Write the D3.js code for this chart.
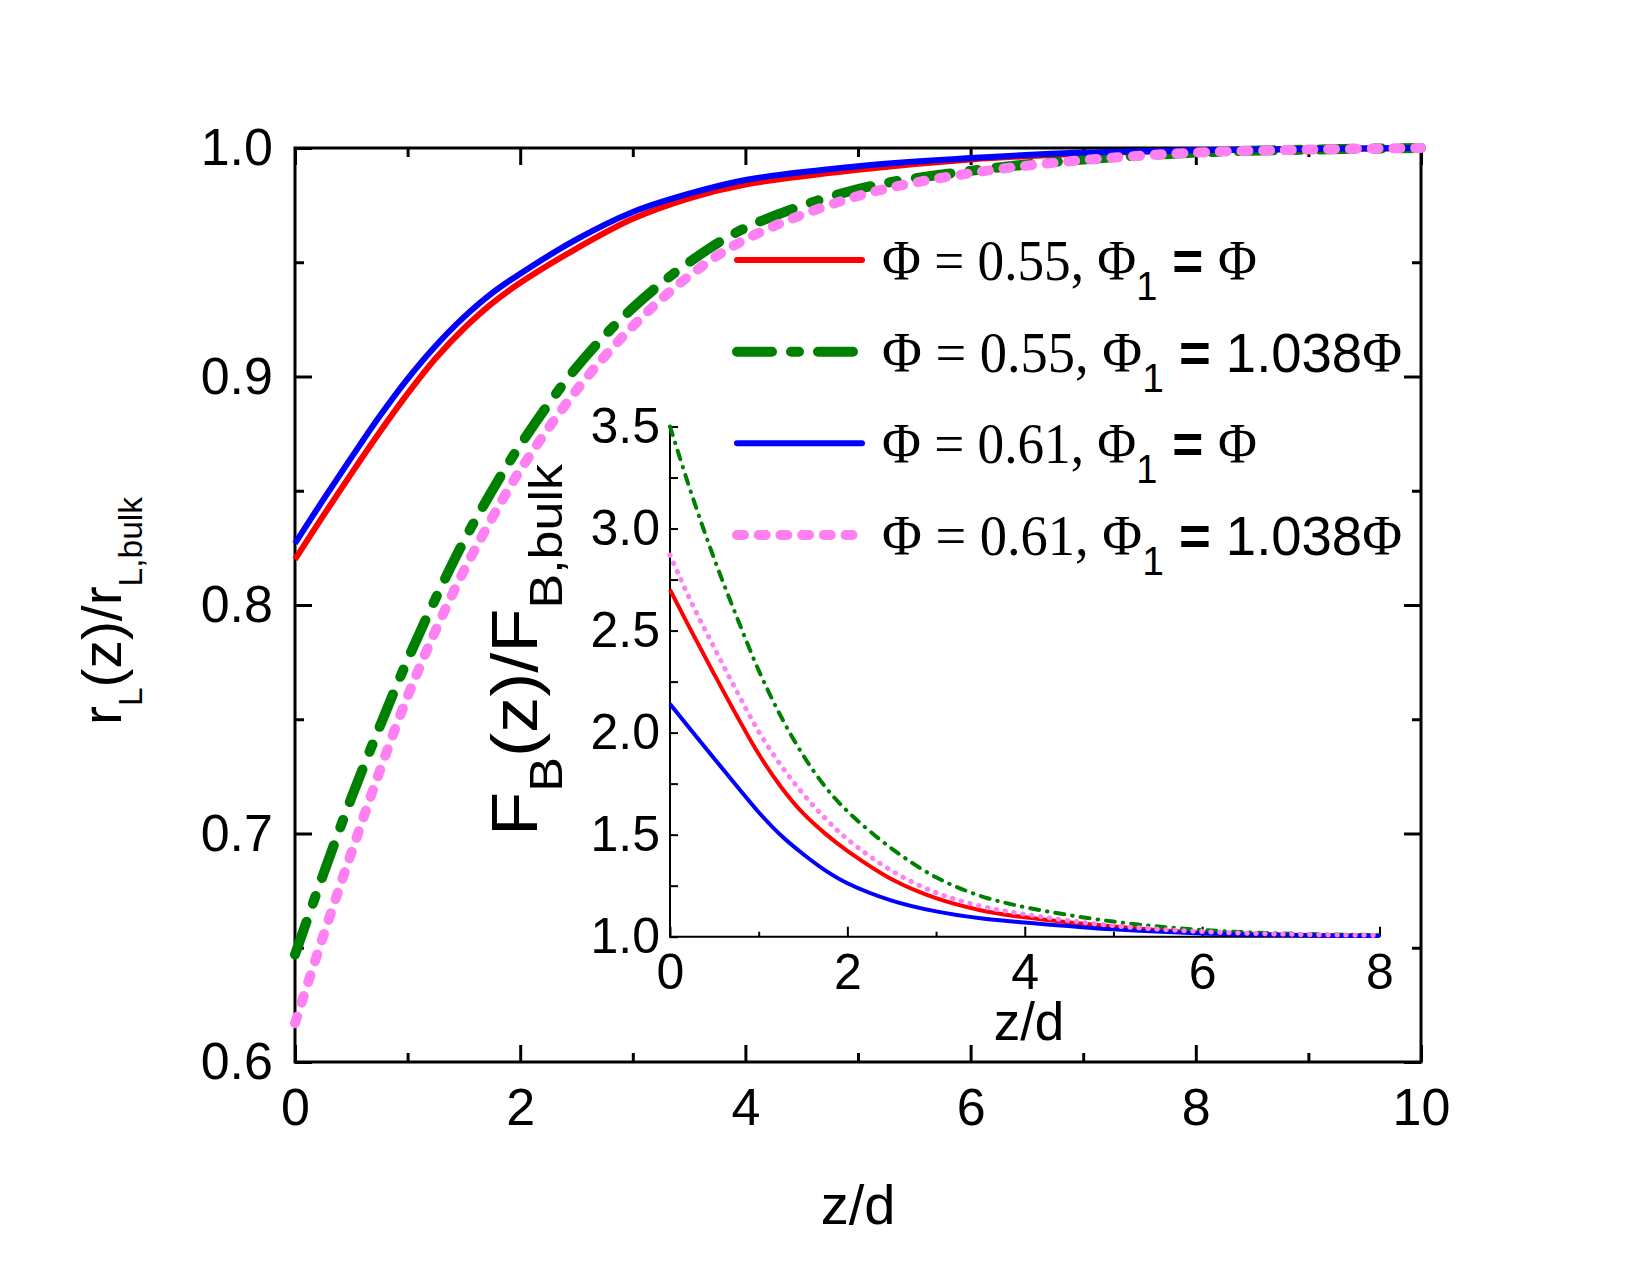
<!DOCTYPE html>
<html>
<head>
<meta charset="utf-8">
<script src="https://cdn.jsdelivr.net/npm/d3@7"></script>
<style>
  body { margin: 0; background: #fff; }
  text { fill: #000; }
</style>
</head>
<body>
<div id="chart"></div>
<script>
//main plot data: r_L(z)/r_L,bulk against z/d
const zMain = [0, 0.25, 0.5, 0.75, 1, 1.25, 1.5, 1.75, 2, 2.5, 3, 3.5, 4, 5, 6, 7, 8, 9, 10];
const mainRed = [0.820, 0.839, 0.8575, 0.8755, 0.8925, 0.908, 0.921, 0.932, 0.941, 0.956, 0.969, 0.978, 0.984, 0.9905, 0.995, 0.9975, 0.9989, 0.9995, 1.0];
const mainGreen = [0.647, 0.682, 0.7155, 0.7465, 0.776, 0.803, 0.828, 0.850, 0.870, 0.904, 0.930, 0.950, 0.965, 0.982, 0.990, 0.995, 0.998, 0.9993, 1.0];
const mainBlue = [0.827, 0.846, 0.8645, 0.8825, 0.899, 0.9135, 0.926, 0.9365, 0.945, 0.960, 0.972, 0.980, 0.986, 0.992, 0.9956, 0.998, 0.999, 0.9996, 1.0];
const mainPink = [0.617, 0.655, 0.6915, 0.727, 0.760, 0.789, 0.815, 0.838, 0.859, 0.894, 0.922, 0.944, 0.960, 0.979, 0.989, 0.9947, 0.998, 0.9993, 1.0];

//inset data: F_B(z)/F_B,bulk against z/d
const zInset = [0, 0.25, 0.5, 0.75, 1, 1.25, 1.5, 1.75, 2, 2.5, 3, 3.5, 4, 5, 6, 7, 8];
const insetRed = [2.70, 2.49, 2.285, 2.085, 1.895, 1.735, 1.605, 1.505, 1.421, 1.282, 1.189, 1.13, 1.095, 1.05, 1.02, 1.01, 1.005];
const insetGreen = [3.50, 3.16, 2.85, 2.57, 2.305, 2.08, 1.89, 1.735, 1.615, 1.432, 1.291, 1.20, 1.145, 1.074, 1.033, 1.015, 1.008];
const insetBlue = [2.14, 2.005, 1.872, 1.74, 1.61, 1.497, 1.405, 1.325, 1.262, 1.177, 1.124, 1.09, 1.07, 1.036, 1.016, 1.008, 1.004];
const insetPink = [2.87, 2.63, 2.415, 2.205, 2.005, 1.84, 1.70, 1.58, 1.478, 1.323, 1.216, 1.15, 1.11, 1.054, 1.025, 1.012, 1.006];

//tick values
const mainXMajor = [0, 2, 4, 6, 8, 10];
const mainXMinor = [1, 3, 5, 7, 9];
const mainYMajor = [0.6, 0.7, 0.8, 0.9, 1.0];
const mainYMinor = [0.65, 0.75, 0.85, 0.95];
const insetXMajor = [0, 2, 4, 6, 8];
const insetXMinor = [1, 3, 5, 7];
const insetYMajor = [1.0, 1.5, 2.0, 2.5, 3.0, 3.5];
const insetYMinor = [1.25, 1.75, 2.25, 2.75, 3.25];

//legend entries
const legendPhi = ["0.55", "0.55", "0.61", "0.61"];
const legendFactor = ["", "1.038", "", "1.038"];

const SANS = "'Liberation Sans', Arial, sans-serif";
const SERIF = "'Liberation Serif', 'Times New Roman', serif";

const series = [
  { main: mainRed, inset: insetRed, color: "#ff0000", mw: 6, md: null, iw: 4, id: null, cap: "butt" },
  { main: mainGreen, inset: insetGreen, color: "#008000", mw: 10, md: "35 19 8 19", iw: 4, id: "9 8 0.5 8", cap: "round" },
  { main: mainBlue, inset: insetBlue, color: "#0000ff", mw: 6, md: null, iw: 4, id: null, cap: "butt" },
  { main: mainPink, inset: insetPink, color: "#ff80f2", mw: 10, md: "7 14.7", iw: 5, id: "0.5 8.5", cap: "round" },
];

const svg = d3
  .select("#chart")
  .append("svg")
  .attr("width", 1650)
  .attr("height", 1275)
  .style("background", "#fff");

//scales
const x = d3.scaleLinear().domain([0, 10]).range([295, 1421]);
const y = d3.scaleLinear().domain([0.6, 1.0]).range([1062, 148]);
const xi = d3.scaleLinear().domain([0, 8]).range([670, 1379.5]);
const yi = d3.scaleLinear().domain([1.0, 3.5]).range([936.7, 426.5]);

//helper for a set of ticks
const ticks = (axis, pos, values, size, width, fmt, font, pad) => {
  const g = svg
    .append("g")
    .attr("transform", pos)
    .call(
      axis
        .tickValues(values)
        .tickSize(-size)
        .tickPadding(pad || 0)
        .tickFormat(fmt || (() => ""))
    );
  g.select(".domain").remove();
  g.selectAll("line").attr("stroke", "#000").attr("stroke-width", width);
  g.selectAll("text")
    .attr("font-family", SANS)
    .attr("font-size", font || 10)
    .attr("fill", "#000");
  return g;
};

const f1 = d3.format(".1f");
const fi = d3.format("d");

//main frame ticks
ticks(d3.axisBottom(x), "translate(0,1062)", mainXMajor, 17, 3, fi, 52, 26);
ticks(d3.axisBottom(x), "translate(0,1062)", mainXMinor, 9, 3);
ticks(d3.axisTop(x), "translate(0,148)", mainXMajor, 17, 3);
ticks(d3.axisTop(x), "translate(0,148)", mainXMinor, 9, 3);
ticks(d3.axisLeft(y), "translate(295,0)", mainYMajor, 17, 3, f1, 52, 22);
ticks(d3.axisLeft(y), "translate(295,0)", mainYMinor, 9, 3);
ticks(d3.axisRight(y), "translate(1421,0)", mainYMajor, 17, 3);
ticks(d3.axisRight(y), "translate(1421,0)", mainYMinor, 9, 3);

svg
  .append("rect")
  .attr("x", x(0))
  .attr("y", y(1.0))
  .attr("width", x(10) - x(0))
  .attr("height", y(0.6) - y(1.0))
  .attr("fill", "none")
  .attr("stroke", "#000")
  .attr("stroke-width", 3);

//main curves
const mainLine = (vals) =>
  d3
    .line()
    .x((d, i) => x(zMain[i]))
    .y((d) => y(d))
    .curve(d3.curveCatmullRom.alpha(0.5))(vals);

series.forEach((s) => {
  svg
    .append("path")
    .attr("d", mainLine(s.main))
    .attr("fill", "none")
    .attr("stroke", s.color)
    .attr("stroke-width", s.mw)
    .attr("stroke-linecap", s.cap)
    .attr("stroke-dasharray", s.md);
});

//axis titles of the main plot
svg
  .append("text")
  .attr("x", 858)
  .attr("y", 1224)
  .attr("text-anchor", "middle")
  .attr("font-family", SANS)
  .attr("font-size", 56)
  .text("z/d");

const yTitle = svg
  .append("text")
  .attr("transform", "translate(121,611) rotate(-90)")
  .attr("text-anchor", "middle")
  .attr("font-family", SANS)
  .attr("font-size", 56)
  .attr("textLength", 228)
  .attr("lengthAdjust", "spacingAndGlyphs");
yTitle.append("tspan").text("r");
yTitle.append("tspan").attr("font-size", 33).attr("dy", 21).text("L");
yTitle.append("tspan").attr("dy", -21).text("(z)/r");
yTitle.append("tspan").attr("font-size", 33).attr("dy", 21).text("L,bulk");

//inset ticks and axes
ticks(d3.axisBottom(xi), "translate(0,936.7)", insetXMajor, 10, 2, fi, 50, 17);
ticks(d3.axisBottom(xi), "translate(0,936.7)", insetXMinor, 5, 2);
ticks(d3.axisLeft(yi), "translate(670,0)", insetYMajor, 8, 2, f1, 50, 10);
ticks(d3.axisLeft(yi), "translate(670,0)", insetYMinor, 8, 2);

svg
  .append("path")
  .attr("d", `M${xi(0)},${yi(3.5)}V${yi(1.0)}H${xi(8)}`)
  .attr("fill", "none")
  .attr("stroke", "#000")
  .attr("stroke-width", 2);

//inset curves
const insetLine = (vals) =>
  d3
    .line()
    .x((d, i) => xi(zInset[i]))
    .y((d) => yi(d))
    .curve(d3.curveCatmullRom.alpha(0.5))(vals);

series.forEach((s) => {
  svg
    .append("path")
    .attr("d", insetLine(s.inset))
    .attr("fill", "none")
    .attr("stroke", s.color)
    .attr("stroke-width", s.iw)
    .attr("stroke-linecap", s.cap)
    .attr("stroke-dasharray", s.id);
});

svg
  .append("text")
  .attr("x", 1029)
  .attr("y", 1040)
  .attr("text-anchor", "middle")
  .attr("font-family", SANS)
  .attr("font-size", 53)
  .text("z/d");

const yiTitle = svg
  .append("text")
  .attr("transform", "translate(537,650) rotate(-90)")
  .attr("text-anchor", "middle")
  .attr("font-family", SANS)
  .attr("font-size", 64)
  .attr("textLength", 372)
  .attr("lengthAdjust", "spacingAndGlyphs");
yiTitle.append("tspan").text("F");
yiTitle.append("tspan").attr("font-size", 46).attr("dy", 25).text("B");
yiTitle.append("tspan").attr("dy", -25).text("(z)/F");
yiTitle.append("tspan").attr("font-size", 46).attr("dy", 25).text("B,bulk");

//legend
const legendY = d3.scalePoint().domain(d3.range(4)).range([260, 535]);
series.forEach((s, i) => {
  const ly = legendY(i);
  svg
    .append("line")
    .attr("x1", 737)
    .attr("x2", 862)
    .attr("y1", ly)
    .attr("y2", ly)
    .attr("stroke", s.color)
    .attr("stroke-width", s === series[0] || s === series[2] ? 6 : 10)
    .attr("stroke-linecap", "round")
    .attr("stroke-dasharray", s.md);

  const t = svg
    .append("text")
    .attr("x", 882)
    .attr("y", ly + 20)
    .attr("font-size", 56)
    .attr("textLength", legendFactor[i] ? 520 : 375)
    .attr("lengthAdjust", "spacingAndGlyphs");
  t.append("tspan").attr("font-family", SERIF).text(`\u03A6 = ${legendPhi[i]}, \u03A6`);
  t.append("tspan").attr("font-family", SANS).attr("font-size", 40).attr("dy", 20).text("1");
  t.append("tspan").attr("font-family", SANS).attr("font-weight", "bold").attr("dy", -20).text(" = ");
  if (legendFactor[i]) {
    t.append("tspan").attr("font-family", SANS).text(legendFactor[i]);
  }
  t.append("tspan").attr("font-family", SERIF).text("\u03A6");
});
</script>
</body>
</html>
